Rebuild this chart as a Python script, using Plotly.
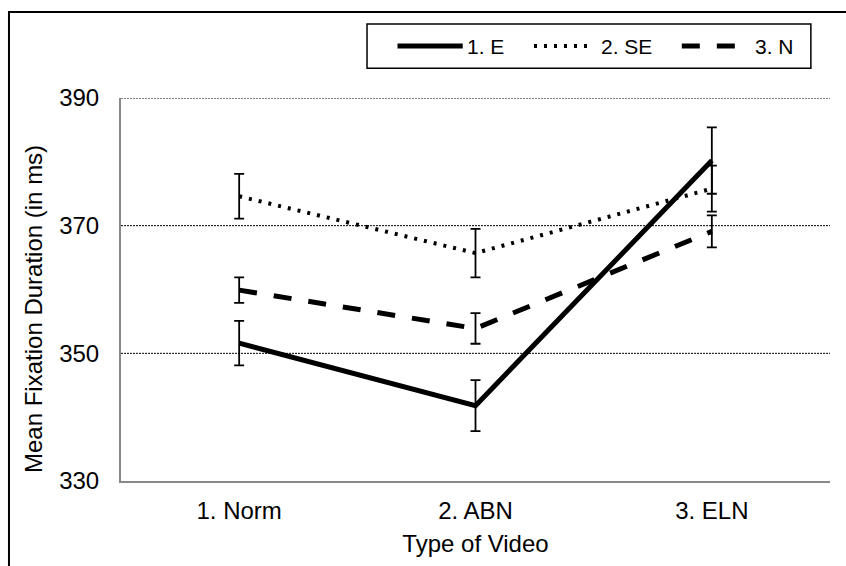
import plotly.graph_objects as go

categories = ["1. Norm", "2. ABN", "3. ELN"]
series_names = ["1. E", "2. SE", "3. N"]
e_vals = [351.6, 341.8, 380.2]
e_err = [3.5, 4.0, 5.2]
se_vals = [374.6, 365.7, 375.8]
se_err = [3.5, 3.8, 3.6]
n_vals = [359.9, 353.9, 369.1]
n_err = [2.0, 2.4, 2.5]
y_ticks = [330, 350, 370, 390]

FONT = "Liberation Sans, Arial, sans-serif"
styles = [
    dict(width=5, dash="solid"),
    dict(width=4, dash="3px,7px"),
    dict(width=5, dash="18px,17px"),
]
vals = [e_vals, se_vals, n_vals]
errs = [e_err, se_err, n_err]

fig = go.Figure()
for name, v, er, st in zip(series_names, vals, errs, styles):
    fig.add_trace(go.Scatter(
        x=categories, y=v, name=name, mode="lines",
        line=dict(color="black", width=st["width"], dash=st["dash"]),
        error_y=dict(type="data", array=er, visible=True, color="black",
                     thickness=1.8, width=5),
        showlegend=False,
    ))

# gridlines for 350..390 drawn as dotted shapes
for t in y_ticks[1:]:
    fig.add_shape(type="line", xref="paper", yref="y", x0=0, x1=1, y0=t, y1=t,
                  line=dict(color="black", width=1, dash="2px,1px"), layer="below")

# outer chart border (top and left visible)
fig.add_shape(type="rect", xref="paper", yref="paper",
              x0=-0.158, x1=1.1, y0=-0.3, y1=1.2245,
              line=dict(color="black", width=2))

# legend box
lx0, lx1, ly0, ly1 = 0.347, 0.973, 1.078, 1.193
fig.add_shape(type="rect", xref="paper", yref="paper",
              x0=lx0, x1=lx1, y0=ly0, y1=ly1, line=dict(color="black", width=1.5))
ly = (ly0 + ly1) / 2
seg = [(0.390, 0.482, 0.485), (0.5825, 0.6615, 0.6735), (0.791, 0.880, 0.892)]
for (a, b, tx), name, st in zip(seg, series_names, styles):
    fig.add_shape(type="line", xref="paper", yref="paper", x0=a, x1=b, y0=ly, y1=ly,
                  line=dict(color="black", width=st["width"], dash=st["dash"]))
    fig.add_annotation(xref="paper", yref="paper", x=tx, y=ly, text=name,
                       showarrow=False, xanchor="left", yanchor="middle",
                       font=dict(family=FONT, size=21, color="black"))

# y-axis title
fig.add_annotation(xref="paper", yref="paper", x=(33 - 121) / 709, y=(481 - 309) / 383,
                   text="Mean Fixation Duration (in ms)", textangle=-90,
                   showarrow=False, xanchor="center", yanchor="middle",
                   font=dict(family=FONT, size=24, color="black"))

fig.update_layout(
    width=846, height=566,
    margin=dict(l=121, r=16, t=98, b=85),
    paper_bgcolor="white", plot_bgcolor="white",
    font=dict(family=FONT, size=24, color="black"),
    showlegend=False,
)
fig.update_xaxes(
    type="category", range=[-0.5, 2.5],
    showline=True, linecolor="#888888", linewidth=2,
    showgrid=False, ticks="", ticklabelstandoff=7,
    tickfont=dict(size=24),
    title=dict(text="Type of Video", font=dict(size=24), standoff=12),
)
fig.update_yaxes(
    range=[330, 390], tickvals=y_ticks,
    showline=True, linecolor="#888888", linewidth=2,
    showgrid=False, zeroline=False, ticks="", ticklabelstandoff=15,
    tickfont=dict(size=24),
)

fig.write_html("out.html")
